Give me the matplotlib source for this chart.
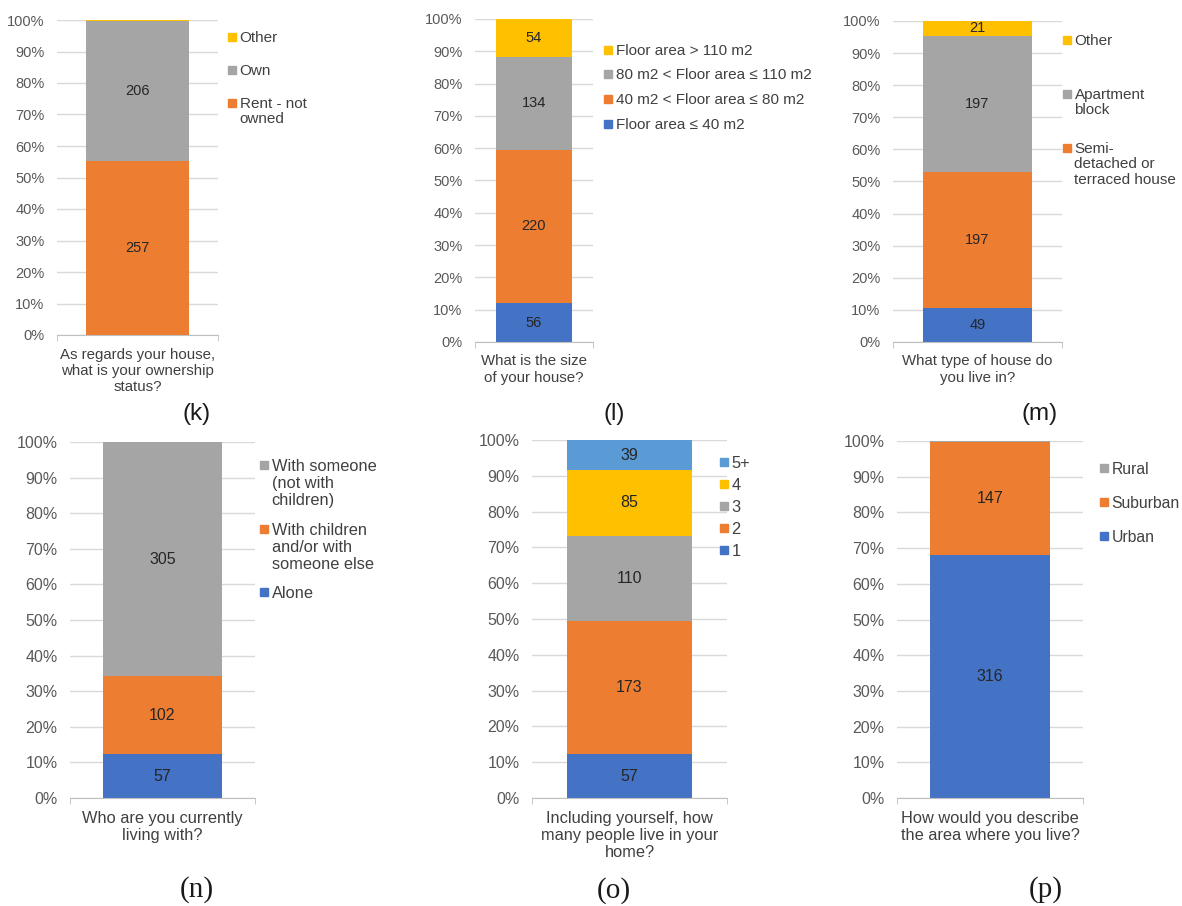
import numpy as np
import matplotlib
matplotlib.use('Agg')
from matplotlib import pyplot as plt
from matplotlib.patches import Rectangle
from matplotlib.ticker import PercentFormatter

plt.rcParams['font.family'] = ['Liberation Sans', 'DejaVu Sans']

# --- data -----------------------------------------------------------------
k_cats = ['Rent - not\nowned', 'Own', 'Other']
k_vals = [257, 206, 1]
k_question = 'As regards your house,\nwhat is your ownership\nstatus?'

l_cats = ['Floor area ≤ 40 m2', '40 m2 < Floor area ≤ 80 m2',
          '80 m2 < Floor area ≤ 110 m2', 'Floor area > 110 m2']
l_vals = [56, 220, 134, 54]
l_question = 'What is the size\nof your house?'

m_cats = [None, 'Semi-\ndetached or\nterraced house', 'Apartment\nblock', 'Other']
m_vals = [49, 197, 197, 21]
m_question = 'What type of house do\nyou live in?'

n_cats = ['Alone', 'With children\nand/or with\nsomeone else',
          'With someone\n(not with\nchildren)']
n_vals = [57, 102, 305]
n_question = 'Who are you currently\nliving with?'

o_cats = ['1', '2', '3', '4', '5+']
o_vals = [57, 173, 110, 85, 39]
o_question = 'Including yourself, how\nmany people live in your\nhome?'

p_cats = ['Urban', 'Suburban', 'Rural']
p_vals = [316, 147, 1]
p_question = 'How would you describe\nthe area where you live?'

panel_tags = ['(k)', '(l)', '(m)', '(n)', '(o)', '(p)']

# --- styles ---------------------------------------------------------------
BLUE = '#4472C4'
ORANGE = '#ED7D31'
GRAY = '#A5A5A5'
YELLOW = '#FFC000'
LBLUE = '#5B9BD5'

W, H = 1182, 906
fig = plt.figure(figsize=(W / 100, H / 100), dpi=100)


def rect(l, t, r, b):
    return [l / W, 1 - b / H, (r - l) / W, (b - t) / H]


def draw(box, cats, vals, colors, question, leg_x, leg_ys, fs, leg_fs, leg_ls):
    ax = fig.add_axes(rect(*box))
    vals = np.array(vals, dtype=float)
    frac = vals / vals.sum()
    bottoms = np.concatenate([[0], np.cumsum(frac)[:-1]])
    entries = []
    for c, v, f, b, col in zip(cats, vals, frac, bottoms, colors):
        ax.bar(0.5, f, width=0.645, bottom=b, color=col, zorder=2)
        if c is not None:
            entries.append((col, c))
        if v > 5:
            ax.text(0.5, b + f / 2, '%d' % v, ha='center', va='center',
                    fontsize=fs, color='#262626', zorder=3)
    ax.set_xlim(0, 1)
    ax.set_ylim(0, 1)
    ax.set_yticks(np.linspace(0, 1, 11))
    ax.yaxis.set_major_formatter(PercentFormatter(1.0, decimals=0))
    ax.yaxis.grid(True, color='#d9d9d9', lw=1)
    ax.set_axisbelow(True)
    for s in ['top', 'right', 'left']:
        ax.spines[s].set_visible(False)
    ax.spines['bottom'].set_color('#bfbfbf')
    ax.tick_params(axis='y', length=0, pad=9, labelsize=fs, labelcolor='#595959')
    ax.set_xticks([0.5])
    ax.set_xticklabels([question], fontsize=fs + 0.3, color='#404040',
                       linespacing=1.2)
    ax.tick_params(axis='x', which='major', length=0, pad=9)
    ax.set_xticks([0, 1], minor=True)
    ax.tick_params(axis='x', which='minor', length=4, color='#bfbfbf')

    # legend, Excel style: marker next to the first line of each label
    sq = 7.5
    for (col, txt), y in zip(entries[::-1], leg_ys):
        fig.patches.append(Rectangle((leg_x / W, 1 - (y + sq / 2) / H),
                                     sq / W, sq / H, color=col,
                                     transform=fig.transFigure, figure=fig))
        fig.text((leg_x + 11.5) / W, 1 - (y - 6) / H, txt, ha='left', va='top',
                 fontsize=leg_fs, color='#404040', linespacing=leg_ls)
    return ax


draw((57, 20, 218, 335), k_cats, k_vals, [ORANGE, GRAY, YELLOW],
     k_question, 228, [37, 70, 103], 10.5, 11, 1.12)
draw((475, 19, 593, 342), l_cats, l_vals, [BLUE, ORANGE, GRAY, YELLOW],
     l_question, 604, [50, 74, 99, 124], 10.5, 11, 1.12)
draw((893, 21, 1062, 342), m_cats, m_vals, [BLUE, ORANGE, GRAY, YELLOW],
     m_question, 1063, [40, 94, 148], 10.5, 11, 1.12)
draw((70, 442, 255, 798), n_cats, n_vals, [BLUE, ORANGE, GRAY],
     n_question, 260, [465, 529, 592], 11.5, 11.8, 1.18)
draw((532, 440, 727, 798), o_cats, o_vals, [BLUE, ORANGE, GRAY, YELLOW, LBLUE],
     o_question, 720, [462, 484, 506, 528, 550], 11.5, 11.8, 1.18)
draw((897, 441, 1083, 798), p_cats, p_vals, [BLUE, ORANGE, GRAY],
     p_question, 1100, [468, 502, 536], 11.5, 11.3, 1.18)

tag_pos = [(197, 414), (614, 414), (1040, 414), (197, 890), (614, 891), (1046, 890)]
for i, (tag, (x, y)) in enumerate(zip(panel_tags, tag_pos)):
    if i < 3:
        fig.text(x / W, 1 - y / H, tag, ha='center', va='center',
                 fontsize=17.5, color='#1a1a1a')
    else:
        fig.text(x / W, 1 - y / H, tag, ha='center', va='center',
                 fontsize=21, family='Liberation Serif', color='#1a1a1a')

fig.savefig('out.png', dpi=100, facecolor='white')
